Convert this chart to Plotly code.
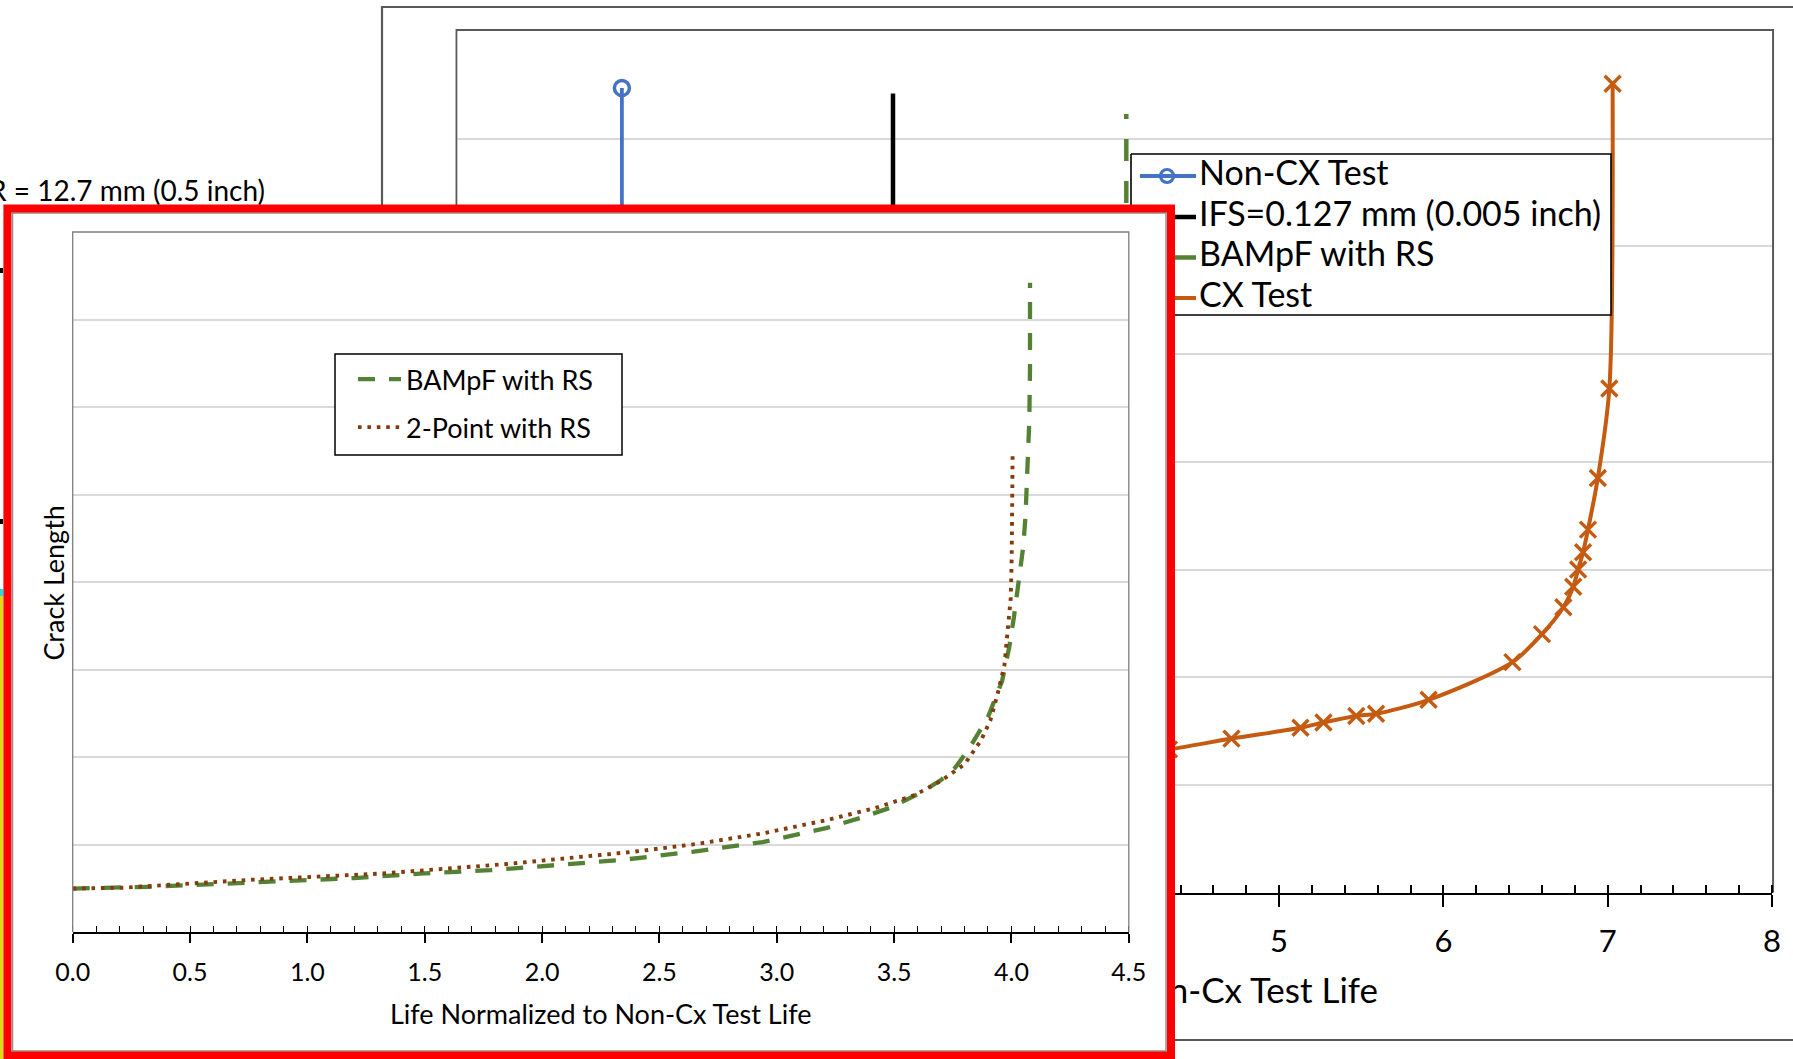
import plotly.graph_objects as go

# ======================= DATA =======================
# Background chart (life axis 0..8, crack length axis 0..8, unlabeled)
# labels 0-4 of this axis are hidden behind the inset in the reference
main_xtick_vals = [0, 1, 2, 3, 4, 5, 6, 7, 8]
main_xtick_text = ["", "", "", "", "", "5", "6", "7", "8"]
main_grid_vals = [1, 2, 3, 4, 5, 6, 7]

noncx_x = [1.0, 1.0]
noncx_y = [0.5, 7.47]

ifs_x = [2.65, 2.65]
ifs_y = [0.5, 7.42]

bampf_main_x = [3.60, 3.90, 4.02, 4.07, 4.07]
bampf_main_y = [1.45, 2.40, 4.00, 5.80, 7.23]

cx_x = [3.60, 4.33, 4.71, 5.13, 5.27, 5.47, 5.59, 5.91, 6.42, 6.60, 6.73, 6.79,
        6.82, 6.85, 6.88, 6.94, 7.01, 7.03]
cx_y = [1.20, 1.33, 1.43, 1.53, 1.58, 1.64, 1.66, 1.79, 2.14, 2.40, 2.65, 2.84,
        3.00, 3.16, 3.37, 3.85, 4.68, 7.51]

main_legend_names = ["Non-CX Test", "IFS=0.127 mm (0.005 inch)", "BAMpF with RS", "CX Test"]
main_x_title = "Life Normalized to Non-Cx Test Life"
caption_text = "R = 12.7 mm (0.5 inch)"

# Inset chart (life axis 0..4.5)
inset_xtick_vals = [0.0, 0.5, 1.0, 1.5, 2.0, 2.5, 3.0, 3.5, 4.0, 4.5]
inset_xtick_text = ["0.0", "0.5", "1.0", "1.5", "2.0", "2.5", "3.0", "3.5", "4.0", "4.5"]
inset_grid_vals = [1, 2, 3, 4, 5, 6, 7]

inset_bampf_x = [0.00, 0.33, 0.60, 0.90, 1.20, 1.48, 1.78, 2.07, 2.35, 2.64, 2.94,
                 3.21, 3.36, 3.48, 3.61, 3.70, 3.76, 3.82, 3.90, 3.96, 3.99, 4.01,
                 4.03, 4.05, 4.06, 4.065, 4.072, 4.076, 4.079, 4.079]
inset_bampf_y = [0.50, 0.52, 0.55, 0.59, 0.62, 0.67, 0.71, 0.77, 0.83, 0.92, 1.03,
                 1.19, 1.31, 1.42, 1.59, 1.74, 1.88, 2.10, 2.46, 2.87, 3.25, 3.59,
                 4.00, 4.40, 4.76, 5.08, 5.46, 5.84, 6.43, 7.42]

inset_2pt_x = [0.00, 0.22, 0.76, 1.31, 1.85, 2.12, 2.39, 2.66, 2.94, 3.21, 3.42,
               3.59, 3.70, 3.80, 3.87, 3.91, 3.94, 3.97, 3.987, 3.997, 4.001,
               4.004, 4.005]
inset_2pt_y = [0.50, 0.51, 0.60, 0.67, 0.78, 0.85, 0.92, 1.01, 1.13, 1.28, 1.42,
               1.57, 1.73, 1.92, 2.19, 2.42, 2.71, 3.05, 3.48, 3.82, 4.27,
               4.85, 5.49]

inset_x_title = "Life Normalized to Non-Cx Test Life"
inset_y_title = "Crack Length"

# ======================= LAYOUT GEOMETRY (page pixels) =======================
W, H = 1793, 1059
FONT = "Lato, Carlito, Calibri, sans-serif"
BLUE, GREEN, ORANGE, BROWN = "#4472C4", "#548235", "#C55A11", "#843C0C"
GRID = "#D9D9D9"

MAIN_L, MAIN_R, MAIN_T, MAIN_B = 457.6, 1772.0, 31.0, 892.6
PANEL_L, PANEL_R, PANEL_T, PANEL_B = 3.4, 1175.0, 205.0, 1059.0
INS_L, INS_R, INS_T, INS_B = 72.7, 1128.8, 232.0, 932.3


def fx(p):
    return p / W


def fy(p):
    return 1 - p / H


def mx(p):  # page px -> background-chart x
    return (p - MAIN_L) / (MAIN_R - MAIN_L) * 8


def my(p):  # page px -> background-chart y
    return (MAIN_B - p) / (MAIN_B - MAIN_T) * 8


NOHOVER = dict(showlegend=False, hoverinfo="skip")
fig = go.Figure()

# ---------------- page canvas (xy, pixel units): loose texts of the background page ----------
fig.add_trace(go.Scatter(x=[1378], y=[994], mode="text", text=[main_x_title],
                         textposition="middle left", marker=dict(size=1),
                         textfont=dict(family=FONT, size=35, color="black"),
                         xaxis="x", yaxis="y", **NOHOVER))
fig.add_trace(go.Scatter(x=[265], y=[194], mode="text", text=[caption_text],
                         textposition="middle left", marker=dict(size=1),
                         textfont=dict(family=FONT, size=28, color="black"),
                         xaxis="x", yaxis="y", **NOHOVER))

# ---------------- background chart (x2y2) ----------------
fig.add_trace(go.Scatter(x=noncx_x, y=noncx_y, mode="lines+markers", xaxis="x2", yaxis="y2",
                         line=dict(color=BLUE, width=3.8),
                         marker=dict(symbol="circle-open", size=15, color=BLUE, line=dict(width=3.5)),
                         **NOHOVER))
fig.add_trace(go.Scatter(x=ifs_x, y=ifs_y, mode="lines", xaxis="x2", yaxis="y2",
                         line=dict(color="black", width=4.5), **NOHOVER))
fig.add_trace(go.Scatter(x=bampf_main_x, y=bampf_main_y, mode="lines", xaxis="x2", yaxis="y2",
                         line=dict(color=GREEN, width=4.5, dash="22px,20px"), **NOHOVER))
fig.add_trace(go.Scatter(x=cx_x, y=cx_y, mode="lines+markers", xaxis="x2", yaxis="y2",
                         line=dict(color=ORANGE, width=4, shape="spline", smoothing=0.8),
                         marker=dict(symbol="x-thin", size=16, color=ORANGE,
                                     line=dict(color=ORANGE, width=3.4)),
                         **NOHOVER))

# hand-built legend of the background chart (it lies underneath the inset)
bx0, bx1, by0, by1 = mx(1131), mx(1611), my(154), my(315)
fig.add_trace(go.Scatter(x=[bx0, bx1, bx1, bx0, bx0], y=[by0, by0, by1, by1, by0],
                         mode="lines", fill="toself", fillcolor="white",
                         line=dict(color="black", width=1.6), xaxis="x2", yaxis="y2", **NOHOVER))
row_px = [176.0, 217.0, 257.5, 298.0]
sx0, sx1, sxm = mx(1140), mx(1196), mx(1167)
leg_styles = [dict(color=BLUE, width=3.8), dict(color="black", width=4.5),
              dict(color=GREEN, width=4.5), dict(color=ORANGE, width=4)]
for rp, st in zip(row_px, leg_styles):
    fig.add_trace(go.Scatter(x=[sx0, sx1], y=[my(rp), my(rp)], mode="lines", line=st,
                             xaxis="x2", yaxis="y2", **NOHOVER))
fig.add_trace(go.Scatter(x=[sxm], y=[my(row_px[0])], mode="markers", xaxis="x2", yaxis="y2",
                         marker=dict(symbol="circle-open", size=13, color=BLUE, line=dict(width=3.2)),
                         **NOHOVER))
fig.add_trace(go.Scatter(x=[mx(1199)] * 4, y=[my(r) for r in row_px], mode="text",
                         text=main_legend_names, textposition="middle right", marker=dict(size=1),
                         textfont=dict(family=FONT, size=34, color="black"),
                         xaxis="x2", yaxis="y2", **NOHOVER))

# ---------------- white inset panel (x3y3) ----------------
fig.add_trace(go.Scatter(x=[0.5], y=[0.5], mode="markers", marker=dict(opacity=0),
                         xaxis="x3", yaxis="y3", **NOHOVER))

# ---------------- inset chart (x4y4) ----------------
fig.add_trace(go.Scatter(x=inset_bampf_x, y=inset_bampf_y, mode="lines", name="BAMpF with RS",
                         xaxis="x4", yaxis="y4", legendgroup="a",
                         line=dict(color=GREEN, width=4.3, dash="17px,14px"), hoverinfo="skip"))
fig.add_trace(go.Scatter(x=inset_2pt_x, y=inset_2pt_y, mode="lines", name="2-Point with RS",
                         xaxis="x4", yaxis="y4", legendgroup="b",
                         line=dict(color=BROWN, width=3.9, dash="3.6px,5.8px"), hoverinfo="skip"))

hidden = dict(showgrid=False, zeroline=False, showticklabels=False, showline=False, ticks="",
              automargin=False, fixedrange=True)

fig.update_layout(
    template="none",
    width=W, height=H, autosize=False,
    margin=dict(l=0, r=0, t=0, b=0, pad=0),
    paper_bgcolor="white", plot_bgcolor="white",
    font=dict(family=FONT, color="black"),
    # page canvas
    xaxis=dict(domain=[0, 1], range=[0, W], anchor="y", **hidden),
    yaxis=dict(domain=[0, 1], range=[H, 0], anchor="x", **hidden),
    # background chart
    xaxis2=dict(domain=[fx(MAIN_L), fx(MAIN_R)], range=[0, 8], anchor="y2", automargin=False,
                tickmode="array", tickvals=main_xtick_vals, ticktext=main_xtick_text,
                ticks="outside", ticklen=12, tickwidth=2, tickcolor="black",
                showline=True, linecolor="black", linewidth=2,
                showgrid=False, zeroline=False,
                tickfont=dict(family=FONT, size=31, color="black"), ticklabelstandoff=8,
                minor=dict(ticks="inside", tickmode="linear", tick0=0, dtick=0.2, ticklen=7.5,
                           tickwidth=1.6, tickcolor="black", showgrid=False)),
    yaxis2=dict(domain=[fy(MAIN_B), fy(MAIN_T)], range=[0, 8], anchor="x2", automargin=False,
                tickmode="array", tickvals=main_grid_vals, showticklabels=False, ticks="",
                showgrid=True, gridcolor=GRID, gridwidth=1.8, zeroline=False, showline=False),
    # inset panel
    xaxis3=dict(domain=[fx(PANEL_L), fx(PANEL_R)], range=[0, 1], anchor="y3", **hidden),
    yaxis3=dict(domain=[fy(PANEL_B), fy(PANEL_T)], range=[0, 1], anchor="x3", **hidden),
    # inset chart
    xaxis4=dict(domain=[fx(INS_L), fx(INS_R)], range=[0, 4.5], anchor="y4", automargin=False,
                tickmode="array", tickvals=inset_xtick_vals, ticktext=inset_xtick_text,
                ticks="outside", ticklen=9, tickwidth=1.6, tickcolor="black",
                showline=True, linecolor="black", linewidth=2,
                showgrid=False, zeroline=False,
                tickfont=dict(family=FONT, size=25, color="black"), ticklabelstandoff=8,
                minor=dict(ticks="inside", tickmode="linear", tick0=0, dtick=0.1, ticklen=6.5,
                           tickwidth=1.3, tickcolor="black", showgrid=False)),
    yaxis4=dict(domain=[fy(INS_B), fy(INS_T)], range=[0, 8], anchor="x4", automargin=False,
                tickmode="array", tickvals=inset_grid_vals, showticklabels=False, ticks="",
                showgrid=True, gridcolor=GRID, gridwidth=1.6, zeroline=False, showline=False),
    legend=dict(x=fx(353), y=fy(355), xanchor="left", yanchor="top",
                bgcolor="rgba(0,0,0,0)", borderwidth=0,
                font=dict(family=FONT, size=27, color="black"),
                tracegroupgap=10, itemwidth=43),
    annotations=[
        dict(text=inset_x_title, xref="paper", yref="paper",
             x=fx((INS_L + INS_R) / 2), y=fy(1013), xanchor="center", yanchor="middle",
             showarrow=False, font=dict(family=FONT, size=27, color="black")),
        dict(text=inset_y_title, xref="paper", yref="paper", textangle=-90,
             x=fx(52.6), y=fy(583), xanchor="center", yanchor="middle",
             showarrow=False, font=dict(family=FONT, size=27, color="black")),
    ],
    shapes=[
        # outer frame of the background chart
        dict(type="rect", xref="paper", yref="paper", x0=fx(382), x1=fx(1830), y0=fy(1040), y1=fy(7),
             line=dict(color="#595959", width=2.2), layer="below"),
        # plot-area frame of the background chart (left, top, right), just outside the plot area
        dict(type="path", xref="x2 domain", yref="y2 domain",
             path="M-0.0008,0 L-0.0008,1.0012 L1.0008,1.0012 L1.0008,0",
             line=dict(color="#595959", width=2), layer="below"),
        # edge of another figure peeking out at the far left
        dict(type="rect", xref="paper", yref="paper", x0=0, x1=fx(3.6), y0=fy(1059), y1=fy(596),
             fillcolor="#DCDC14", line=dict(width=0), layer="below"),
        dict(type="rect", xref="paper", yref="paper", x0=0, x1=fx(3.6), y0=fy(596), y1=fy(589),
             fillcolor="#19E0E6", line=dict(width=0), layer="below"),
        dict(type="rect", xref="paper", yref="paper", x0=0, x1=fx(3.0), y0=fy(273), y1=fy(268),
             fillcolor="black", line=dict(width=0), layer="below"),
        dict(type="rect", xref="paper", yref="paper", x0=0, x1=fx(3.0), y0=fy(524), y1=fy(519),
             fillcolor="black", line=dict(width=0), layer="below"),
        # inset plot-area frame (left, top, right)
        dict(type="path", xref="x4 domain", yref="y4 domain", path="M0,0 L0,1 L1,1 L1,0",
             line=dict(color="#7F7F7F", width=1.3), layer="above"),
        # inset legend box
        dict(type="rect", xref="paper", yref="paper", x0=fx(335), x1=fx(622), y0=fy(455), y1=fy(354),
             fillcolor="white", line=dict(color="black", width=1.5), layer="above"),
        # inset chart-area border and red highlight box
        dict(type="rect", xref="paper", yref="paper", x0=fx(12.5), x1=fx(1166), y0=fy(1051), y1=fy(213),
             line=dict(color="#8C8C8C", width=1.5), layer="above"),
        dict(type="rect", xref="paper", yref="paper", x0=fx(7.4), x1=fx(1171), y0=fy(1055.5), y1=fy(208.5),
             line=dict(color="#FF0000", width=8), layer="above"),
    ],
)

fig.write_html("out.html")
